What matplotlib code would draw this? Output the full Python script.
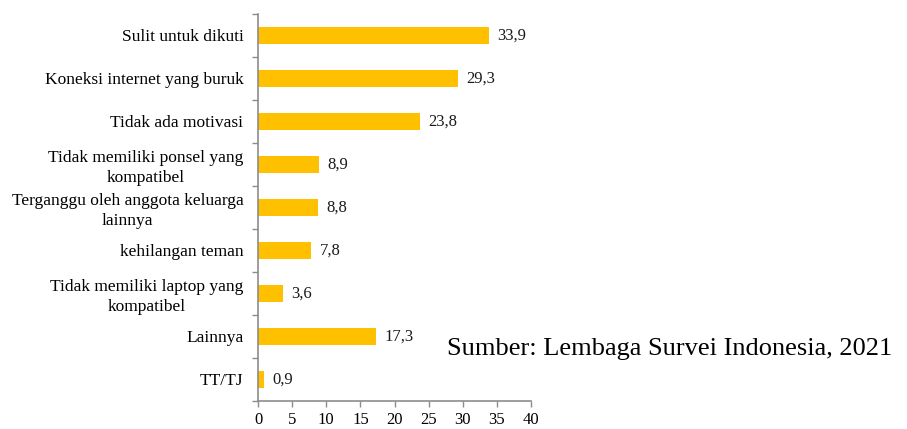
import matplotlib.pyplot as plt

categories = [
    "Sulit untuk dikuti",
    "Koneksi internet yang buruk",
    "Tidak ada motivasi",
    "Tidak memiliki ponsel yang\nkompatibel",
    "Terganggu oleh anggota keluarga\nlainnya",
    "kehilangan teman",
    "Tidak memiliki laptop yang\nkompatibel",
    "Lainnya",
    "TT/TJ",
]
values = [33.9, 29.3, 23.8, 8.9, 8.8, 7.8, 3.6, 17.3, 0.9]
x_ticks = [0, 5, 10, 15, 20, 25, 30, 35, 40]

plt.rcParams['font.family'] = ['Liberation Serif', 'DejaVu Serif']

fig = plt.figure(figsize=(9.07, 4.29), dpi=100)
ax = fig.add_axes([0.2845, 0.0653, 0.301, 0.9021])

n = len(categories)
ypos = list(range(n))
ax.barh(ypos, values, height=0.38, color='#FFC000', zorder=2)

for y, v in zip(ypos, values):
    ax.text(v + 1.2, y, f"{v:.1f}".replace('.', ','), va='center', ha='left',
            fontsize=12, color='#1a1a1a')

ax.set_xlim(0, 40)
ax.set_ylim(n - 0.5, -0.5)
ax.set_xticks(x_ticks)
ax.set_xticklabels([str(t) for t in x_ticks], fontsize=12)

# category labels placed at centres, tick marks at boundaries
ax.set_yticks(ypos)
ax.set_yticklabels(categories, fontsize=12.5, linespacing=1.3,
                   multialignment='center')
ax.tick_params(axis='y', which='major', length=0, pad=10.5)
ax.set_yticks([i - 0.5 for i in range(n + 1)], minor=True)
ax.tick_params(axis='y', which='minor', length=4, color='#8c8c8c', width=1)
ax.tick_params(axis='x', length=4, color='#8c8c8c', width=1, pad=4)

for s in ['top', 'right']:
    ax.spines[s].set_visible(False)
for s in ['left', 'bottom']:
    ax.spines[s].set_color('#8c8c8c')
    ax.spines[s].set_linewidth(1.2)

fig.text(0.4925, 0.186, "Sumber: Lembaga Survei Indonesia, 2021", fontsize=19,
         ha='left', va='center', color='black')

fig.savefig('out.png', dpi=100)
